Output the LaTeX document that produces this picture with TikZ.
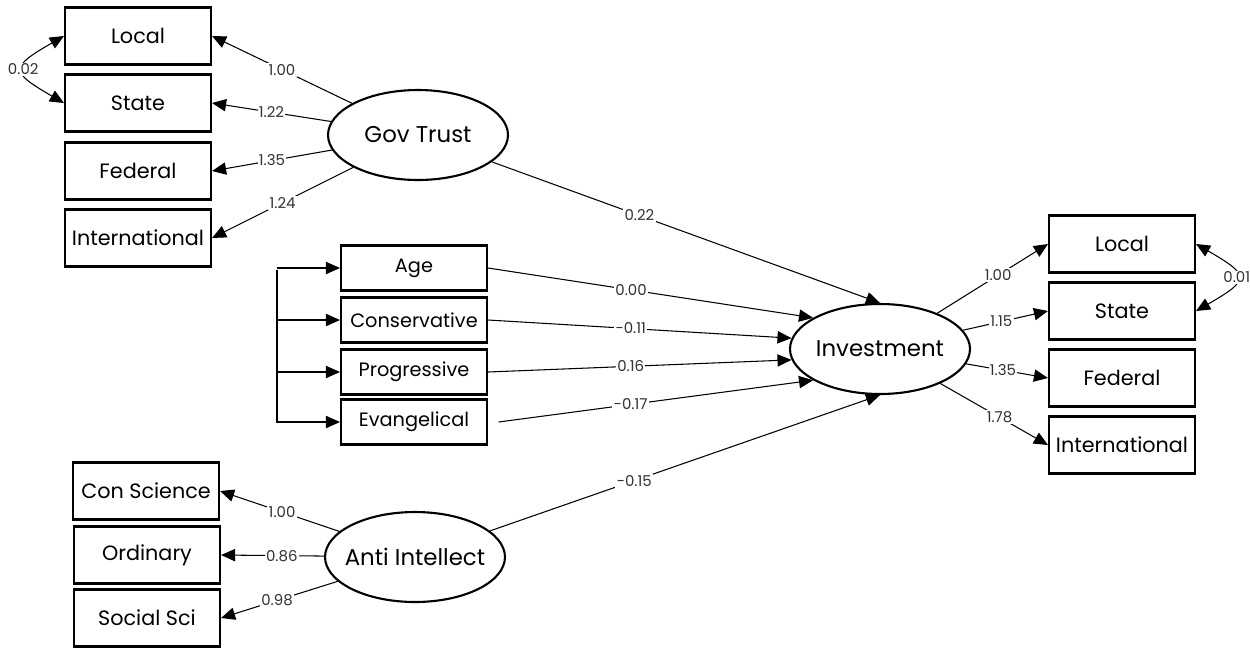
\documentclass[tikz,border=0pt]{standalone}
\usepackage{fontspec}
\setmainfont{Poppins}
\usetikzlibrary{arrows.meta,positioning,shapes.geometric}
\definecolor{estgray}{RGB}{50,50,50}

\begin{document}
\begin{tikzpicture}[x=0.02cm, y=0.02cm,
    obs/.style={draw, line width=1.2pt, minimum width=2.92cm, minimum height=1.14cm,
                inner sep=0pt, font=\fontsize{11.8}{13}\selectfont},
    cvbox/.style={obs, minimum height=0.9cm, font=\fontsize{11}{13}\selectfont},
    lat/.style={ellipse, draw, line width=1.2pt, minimum width=3.6cm, minimum height=1.8cm,
                inner sep=0pt, inner xsep=-4pt, font=\fontsize{13}{15}\selectfont},
    arr/.style={-{Triangle[length=8pt,width=7pt]}, line width=0.6pt},
    cov/.style={{Triangle[length=8pt,width=7pt]}-{Triangle[length=8pt,width=7pt]}, line width=0.6pt},
    est/.style={fill=white, inner sep=0.8pt, font=\fontsize{8.5}{9}\selectfont, text=estgray}]
    \useasboundingbox (0,0) rectangle (1250,-647);

    % Gov Trust and its indicators
    \node[lat] (gt) at (418,-135) {Gov Trust};
    \node[obs] (gtLocal) at (138,-36) {Local};
    \node[obs] (gtState) at (138,-103) {State};
    \node[obs] (gtFederal) at (138,-171) {Federal};
    \node[obs] (gtIntl) at (138,-238) {International};

    % Investment and its indicators
    \node[lat] (inv) at (880,-349) {Investment};
    \node[obs] (invLocal) at (1122,-244) {Local};
    \node[obs] (invState) at (1122,-311) {State};
    \node[obs] (invFederal) at (1122,-378) {Federal};
    \node[obs] (invIntl) at (1122,-445) {International};

    % Covariates
    \node[cvbox] (age) at (414,-268) {Age};
    \node[cvbox] (cons) at (414,-320) {Conservative};
    \node[cvbox] (prog) at (414,-372) {Progressive};
    \node[cvbox] (evan) at (414,-422) {Evangelical};

    % Anti Intellect and its indicators
    \node[lat] (ai) at (415,-557) {Anti Intellect};
    \node[obs] (aiCon) at (146,-491) {Con Science};
    \node[obs] (aiOrd) at (147,-555) {Ordinary};
    \node[obs] (aiSoc) at (147,-618) {Social Sci};

    % Loadings
    \draw[arr] (gt) -- node[est]{1.00} (gtLocal.east);
    \draw[arr] (gt) -- node[est]{1.22} (gtState.east);
    \draw[arr] (gt) -- node[est]{1.35} (gtFederal.east);
    \draw[arr] (gt) -- node[est]{1.24} (gtIntl.east);

    \draw[arr] (inv) -- node[est,pos=0.55]{1.00} (invLocal.west);
    \draw[arr] (inv) -- node[est,pos=0.45]{1.15} (invState.west);
    \draw[arr] (inv) -- node[est,pos=0.45]{1.35} (invFederal.west);
    \draw[arr] (inv) -- node[est,pos=0.55]{1.78} (invIntl.west);

    \draw[arr] (ai) -- node[est,pos=0.48]{1.00} (aiCon.east);
    \draw[arr] (ai) -- node[est,pos=0.41]{0.86} (aiOrd.east);
    \draw[arr] (ai) -- node[est,pos=0.52]{0.98} (aiSoc.east);

    % Structural paths
    \draw[arr] (gt) -- node[est,pos=0.38]{0.22} (inv.north);
    \draw[arr] (age.east) -- node[est,pos=0.44]{0.00} (inv.155);
    \draw[arr] (cons.east) -- node[est,pos=0.47]{-0.11} (inv.173);
    \draw[arr] (prog.east) -- node[est,pos=0.47]{0.16} (inv.187);
    \draw[arr] ([xshift=6pt]evan.east) -- node[est,pos=0.42]{-0.17} (inv.205);
    \draw[arr] (ai) -- node[est,pos=0.37]{-0.15} (inv.south);

    % Covariate bracket
    \coordinate (bTop) at (277,-270);
    \coordinate (bBot) at (277,-423);
    \draw[line width=0.6pt] (bTop) -- (bBot);
    \foreach \n in {age,cons,prog,evan}{
      \draw[arr] (bTop |- \n.west) -- (\n.west);
    }

    % Residual covariances
    \draw[cov] (gtLocal.west) to[out=210, in=150, looseness=2.4]
      node[est]{0.02} (gtState.west);
    \draw[cov] (invLocal.east) to[out=-30, in=30, looseness=2.4]
      node[est]{0.01} (invState.east);
  \end{tikzpicture}
\end{document}
